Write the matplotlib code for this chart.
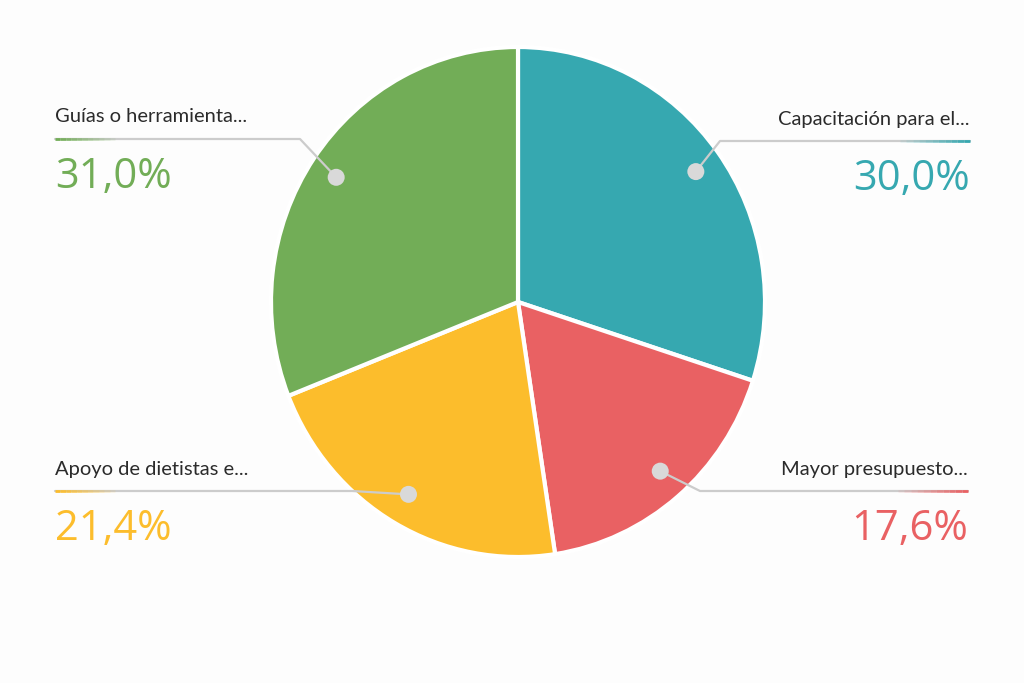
import numpy as np
import matplotlib.pyplot as plt

# Datos del gráfico
labels = ["Capacitación para el...", "Mayor presupuesto...", "Apoyo de dietistas e...", "Guías o herramienta..."]
values = [30.0, 17.6, 21.4, 31.0]
colors = ["#36A8B0", "#E96163", "#FCBD2C", "#72AD57"]
pct_text = ["30,0%", "17,6%", "21,4%", "31,0%"]

W, H = 1024, 683
# Caja del pastel en píxeles (izq, arriba, der, abajo)
px0, py0, px1, py1 = 271, 47, 765, 557
cx, cy = (px0 + px1) / 2, H - (py0 + py1) / 2
rx, ry = (px1 - px0) / 2, (py1 - py0) / 2

fig = plt.figure(figsize=(W / 100, H / 100), dpi=100)
fig.patch.set_facecolor("#fdfdfd")

# Eje propio para el pastel (ligeramente ovalado como el original)
pax = fig.add_axes([px0 / W, 1 - py1 / H, (px1 - px0) / W, (py1 - py0) / H])
wedges, _ = pax.pie(
    values, colors=colors, startangle=90, counterclock=False,
    radius=1, frame=True,
    wedgeprops=dict(edgecolor="white", linewidth=3),
)
pax.set_xlim(-1, 1)
pax.set_ylim(-1, 1)
pax.set_aspect("auto")
pax.axis("off")
pax.set_zorder(1)

# Eje de toda la figura para líneas, puntos y textos
ax = fig.add_axes([0, 0, 1, 1])
ax.set_xlim(0, W)
ax.set_ylim(0, H)
ax.axis("off")
ax.set_zorder(2)
ax.patch.set_alpha(0)

# Posiciones de las etiquetas (x del texto, y de la línea, lado)
label_pos = [
    (970, H - 141, "right"),
    (968, H - 491, "right"),
    (55, H - 491, "left"),
    (55, H - 139, "left"),
]
elbow_x = [720, 700, 352, 300]

for k, w in enumerate(wedges):
    mid = np.deg2rad((w.theta1 + w.theta2) / 2)
    dx = cx + 0.89 * rx * np.cos(mid)
    dy = cy + 0.87 * ry * np.sin(mid)
    tx, ly, side = label_pos[k]
    ex = elbow_x[k]

    # Línea guía gris
    ax.plot([dx, ex, tx], [dy, ly, ly], color="#cccccc", lw=1.6, zorder=3,
            solid_capstyle="round")
    # Tramo de color al final de la línea
    seg = 60 if side == "left" else -70
    xs = np.linspace(tx, tx + seg, 12)
    for i in range(len(xs) - 1):
        alpha = 1 - i / (len(xs) - 1)
        ax.plot(xs[i:i + 2], [ly, ly], color=colors[k], lw=2, alpha=alpha, zorder=4,
                solid_capstyle="butt")

    ax.scatter([dx], [dy], s=150, color="#d9d9d9", zorder=5, edgecolors="none")

    ax.text(tx, ly + 22, labels[k], ha=side, va="center", fontsize=14.5,
            family="Lato", color="#2b2b2b")
    ax.text(tx, ly - 38, pct_text[k], ha=side, va="center", fontsize=30,
            family="Open Sans", fontweight="medium", color=colors[k])

fig.savefig("out.png", dpi=100, facecolor=fig.get_facecolor())
